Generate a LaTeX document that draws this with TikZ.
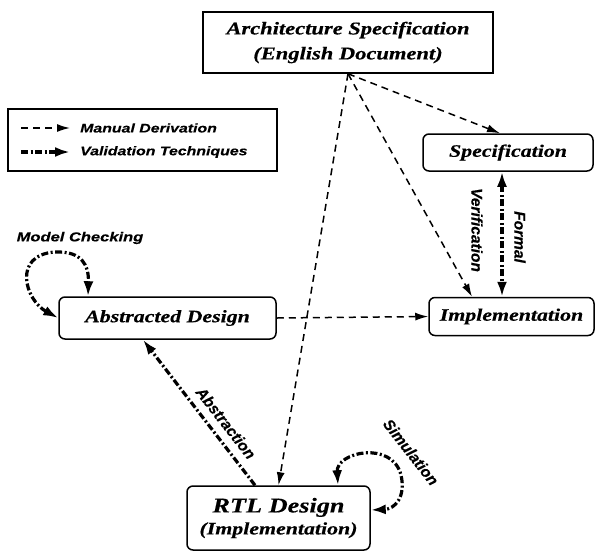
\documentclass[tikz,border=0pt]{standalone}
\usepackage{fontspec}
\setmainfont{Liberation Serif}
\newfontface\boxfont[FakeStretch=1.25,FakeBold=0.4]{Liberation Serif Bold Italic}
\newfontface\labfont[FakeStretch=1.27,FakeBold=0.3]{Liberation Sans Bold Italic}
\newfontface\rotfont[FakeBold=0.3]{Liberation Sans Bold Italic}
\usetikzlibrary{arrows.meta,calc}
\tikzset{
  box/.style={draw, line width=1.5pt, inner sep=0pt, font=\boxfont\fontsize{17.5}{21}\selectfont},
  rbox/.style={box, rounded corners=6pt},
  manual/.style={line width=1.5pt, dash pattern=on 7pt off 5pt},
  valid/.style={line width=3.2pt, dash pattern=on 7pt off 2.5pt on 2pt off 2.5pt},
  mtip/.style={-{Latex[length=13pt,width=8pt]}},
  vtip/.style={-{Latex[length=15pt,width=10pt]}},
  vtips/.style={{Latex[length=15pt,width=10pt]}-{Latex[length=15pt,width=10pt]}},
  lab/.style={font=\labfont\fontsize{13}{15}\selectfont, inner sep=0pt},
  rlab/.style={font=\rotfont\fontsize{15.5}{17}\selectfont, inner sep=0pt},
  legtext/.style={font=\labfont\fontsize{12.5}{15}\selectfont, inner sep=0pt, anchor=west}
}
\begin{document}
\begin{tikzpicture}[x=1pt,y=-1pt]
\useasboundingbox (0,0) rectangle (596,552);
% boxes
\node[box, minimum width=290pt, minimum height=61pt, align=center,
      font=\boxfont\fontsize{18}{25}\selectfont] (arch) at (348,42.5)
      {Architecture Specification\\(English Document)};
\node[rbox, minimum width=170pt, minimum height=37pt] (spec) at (508,152.5) {Specification};
\node[rbox, minimum width=165pt, minimum height=38pt] (impl) at (511.5,316.5) {Implementation};
\node[rbox, minimum width=217pt, minimum height=42pt] (abs) at (167.5,318) {Abstracted Design};
\node[rbox, minimum width=183pt, minimum height=64pt, align=center] (rtl) at (278.5,518)
      {{\fontsize{21}{24}\selectfont RTL Design}\\[1pt](Implementation)};
% legend
\node[draw, line width=1.5pt, minimum width=269pt, minimum height=62pt, inner sep=0pt] (leg) at (142.5,140) {};
\coordinate (l1a) at (21,128); \coordinate (l1b) at (70,128);
\coordinate (l2a) at (21,152); \coordinate (l2b) at (70,152);
\draw[manual, mtip] (l1a) -- (l1b);
\draw[valid, vtip] (l2a) -- (l2b);
\node[legtext] (t1) at (80,128) {Manual Derivation};
\node[legtext] (t2) at (80,152) {Validation Techniques};
% manual derivations
\draw[manual, mtip] (arch.south) -- ([xshift=-8pt]spec.north);
\draw[manual, mtip] (arch.south) -- ([xshift=-39.5pt]impl.north);
\draw[manual, mtip] (arch.south) -- (rtl.north);
\draw[manual, mtip] (abs.east) -- (impl.west);
% validation
\draw[valid, vtips] ([xshift=-6pt]spec.south) -- ([xshift=-6pt]spec.south |- impl.north);
\draw[valid, vtip] ([xshift=-23.5pt]rtl.north) -- ([xshift=-24.5pt]abs.south);
\draw[valid, vtips] (abs.west) .. controls (25,300) and (12,255) .. (55,252)
      .. controls (82,251) and (89,265) .. ([xshift=-79.5pt]abs.north);
\draw[valid, vtips] ([xshift=59.5pt]rtl.north) .. controls (336,452) and (392,440) .. (401,475)
      .. controls (406,497) and (395,509) .. ([yshift=8pt]rtl.east);
% labels
\node[lab] (lmc) at (80,238) {Model Checking};
\node[rlab, rotate=-52] (labs) at (226,423) {Abstraction};
\node[rlab, rotate=-52] (lsim) at (411,452) {Simulation};
\node[rlab, rotate=-90] (lver) at (477,230) {Verification};
\node[rlab, rotate=-90] (lfor) at (520,237) {Formal};
\end{tikzpicture}
\end{document}
